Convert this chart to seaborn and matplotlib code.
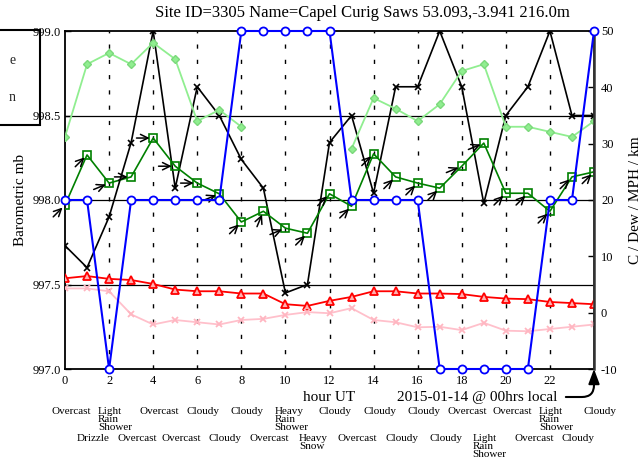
import numpy as np
import pandas as pd
import matplotlib
matplotlib.use("Agg")
import matplotlib.pyplot as plt
import matplotlib.transforms as mtrans
from matplotlib.patches import Rectangle
import seaborn as sns

# ---------------- data ----------------
hours = list(range(25))
pressure_mb = [997.73, 997.60, 997.90, 998.34, 999.00, 998.07, 998.67, 998.50, 998.24,
               998.07, 997.45, 997.50, 998.34, 998.50, 998.04, 998.67, 998.67, 999.00,
               998.67, 997.98, 998.50, 998.67, 999.00, 998.50, 998.50]
gust_mph = [31.2, 44.1, 46.1, 44.1, 47.9, 45.0, 34.0, 36.0, 33.0, np.nan, np.nan, np.nan,
            np.nan, 29.1, 38.1, 36.2, 34.0, 37.0, 42.9, 44.1, 33.0, 33.0, 32.1, 31.2, 34.0]
wind_mph = [19.1, 28.0, 23.0, 24.1, 31.0, 26.0, 23.0, 21.1, 16.1, 18.0, 15.0, 14.1, 21.1,
            18.9, 28.2, 24.1, 23.0, 22.1, 26.0, 30.1, 21.2, 21.2, 18.0, 24.1, 25.0]
wind_from_deg = [225, 225, 247.5, 270, 270, 270, 270, 247.5, 225, 202.5, 247.5, 225, 225,
                 225, 225, 225, 225, 225, 247.5, 247.5, 225, 225, 225, 225, 225]
visibility_km = [20, 20, -10, 20, 20, 20, 20, 20, 50, 50, 50, 50, 50, 20, 20, 20, 20,
                 -10, -10, -10, -10, -10, 20, 20, 50]
temp_c = [6.1, 6.5, 6.0, 5.8, 5.1, 4.1, 3.8, 3.8, 3.4, 3.4, 1.5, 1.2, 2.1, 2.8, 3.8, 3.8,
          3.4, 3.4, 3.3, 2.8, 2.5, 2.4, 1.9, 1.7, 1.5]
dew_c = [4.3, 4.3, 3.8, -0.3, -2.1, -1.3, -1.7, -2.1, -1.3, -1.1, -0.4, 0.1, -0.1, 0.8,
         -1.3, -1.7, -2.6, -2.5, -3.1, -1.8, -3.2, -3.3, -2.9, -2.5, -2.1]
weather = ["Overcast", "Drizzle", "Light Rain Shower", "Overcast", "Overcast", "Overcast",
           "Cloudy", "Cloudy", "Cloudy", "Overcast", "Heavy Rain Shower", "Heavy Snow",
           "Cloudy", "Overcast", "Cloudy", "Cloudy", "Cloudy", "Cloudy", "Overcast",
           "Light Rain Shower", "Overcast", "Overcast", "Light Rain Shower", "Cloudy",
           "Cloudy"]
x_ticks = [0, 2, 4, 6, 8, 10, 12, 14, 16, 18, 20, 22]
left_ticks = [997.0, 997.5, 998.0, 998.5, 999.0]
right_ticks = [-10, 0, 10, 20, 30, 40, 50]
legend_fragments = ["e", "n"]
title = "Site ID=3305 Name=Capel Curig Saws 53.093,-3.941 216.0m"

# gust series broken into contiguous segments
seg = np.cumsum(np.isnan(np.array(gust_mph, dtype=float)))
gust_df = pd.DataFrame({"hour": hours, "gust": gust_mph, "seg": seg}).dropna()

# ---------------- style ----------------
sns.set_theme(style="white")
plt.rcParams["font.family"] = ["Liberation Serif", "DejaVu Serif"]

W, H = 641, 459
fig = plt.figure(figsize=(W / 100, H / 100), dpi=100)
fig.patch.set_facecolor("white")
L, R, T, B = 65, 594, 31, 369
ax = fig.add_axes([L / W, 1 - B / H, (R - L) / W, (B - T) / H])
ax2 = ax.twinx()

# grid
for yv in left_ticks[1:-1]:
    ax.axhline(yv, color="black", lw=0.9, zorder=0.5)
for xv in x_ticks[1:]:
    ax.axvline(xv, color="black", lw=1.0, ls=(0, (3, 8)), zorder=0.5)

# pressure (left axis)
sns.lineplot(x=hours, y=pressure_mb, ax=ax, color="black", lw=1.2, marker="x",
             markersize=5, markeredgecolor="black", markeredgewidth=1.2, zorder=3)

# right axis series
sns.lineplot(data=gust_df, x="hour", y="gust", units="seg", estimator=None, ax=ax2,
             color="#90ee90", lw=1.3, marker="D", markersize=4,
             markerfacecolor="#90ee90", markeredgecolor="#7bd87b", markeredgewidth=1.0)
sns.lineplot(x=hours, y=visibility_km, ax=ax2, color="blue", lw=1.5, marker="o",
             markersize=5.8, markerfacecolor="white", markeredgecolor="blue",
             markeredgewidth=1.3, clip_on=False, zorder=4)
sns.lineplot(x=hours, y=wind_mph, ax=ax2, color="green", lw=1.2, marker="s",
             markersize=5.5, markerfacecolor="none", markeredgecolor="green",
             markeredgewidth=1.2)
sns.lineplot(x=hours, y=temp_c, ax=ax2, color="red", lw=1.3, marker="^",
             markersize=5.5, markerfacecolor="#ffb0b0", markeredgecolor="red",
             markeredgewidth=1.3)
sns.lineplot(x=hours, y=dew_c, ax=ax2, color="#ffc0cb", lw=1.3, marker="x",
             markersize=5, markeredgecolor="#ffb6c1", markeredgewidth=1.3)

# wind direction arrows
arrow_len = 12
for h, v, d in zip(hours, wind_mph, wind_from_deg):
    b = np.radians(d + 180)
    dx, dy = np.sin(b), np.cos(b)
    ax2.annotate("", xy=(h, v), xytext=(-arrow_len * dx, -arrow_len * dy),
                 textcoords="offset points",
                 arrowprops=dict(arrowstyle="->,head_length=0.45,head_width=0.22",
                                 color="black", lw=1.1, shrinkA=0, shrinkB=2.5),
                 annotation_clip=False)

# axes limits / ticks
ax.set_xlim(0, 24)
ax.set_ylim(997.0, 999.0)
ax2.set_ylim(-10, 50)
ax.set_xticks(x_ticks)
ax.set_xticklabels([str(t) for t in x_ticks])
ax.set_yticks(left_ticks)
ax.set_yticklabels([f"{t:.1f}" for t in left_ticks])
ax2.set_yticks(right_ticks)
ax2.set_yticklabels([str(t) for t in right_ticks])
ax.tick_params(axis="both", direction="in", length=4, width=1, labelsize=9,
               colors="black", pad=3)
ax.tick_params(axis="x", pad=4)
ax2.tick_params(axis="y", direction="in", length=4, width=1, labelsize=9,
                colors="black", pad=5)
for s in ["left", "bottom", "top"]:
    ax.spines[s].set_color("black")
    ax.spines[s].set_linewidth(1.3)
ax2.spines["right"].set_color("#333333")
ax2.spines["right"].set_linewidth(1.8)
for s in ["left", "bottom", "top"]:
    ax2.spines[s].set_visible(False)

ax.set_ylabel("Barometric mb", fontsize=11, color="black", labelpad=4)
ax2.set_ylabel("C / Dew / MPH / km", fontsize=11, color="black", labelpad=8)
ax.set_xlabel("hour UT", fontsize=11, color="black", labelpad=3)

fig.text(362 / W, 1 - 13 / H, title, ha="center", va="center", fontsize=12,
         color="black")

# weather labels under the axis
tr = mtrans.blended_transform_factory(ax.transData, fig.transFigure)
for h, wtxt in zip(hours, weather):
    ytop = 407 if h % 2 == 0 else 434
    ax.text(h + 0.27, 1 - ytop / H, wtxt.replace(" ", "\n"), transform=tr,
            ha="center", va="top", multialignment="left", fontsize=8,
            linespacing=0.85, color="black", clip_on=False)

# local time annotation
ax2.annotate("2015-01-14 @ 00hrs local", xy=(24, -10), xycoords="data",
             xytext=(557, H - 397), textcoords="figure pixels",
             ha="right", va="center", fontsize=11, color="black",
             arrowprops=dict(arrowstyle="-|>,head_length=0.8,head_width=0.3",
                             color="black", lw=1.5,
                             connectionstyle="angle,angleA=0,angleB=90,rad=12",
                             shrinkA=4, shrinkB=0),
             annotation_clip=False)

# legend box clipped at the left edge of the figure
fig.patches.append(Rectangle((-20, H - 125), 60, 95, transform=None, fill=False,
                             edgecolor="black", lw=1.5))
fig.text(16 / W, 1 - 61 / H, legend_fragments[0], ha="right", va="center", fontsize=10)
fig.text(16 / W, 1 - 97 / H, legend_fragments[1], ha="right", va="center", fontsize=10)

fig.savefig("out.png", dpi=100, facecolor="white")
